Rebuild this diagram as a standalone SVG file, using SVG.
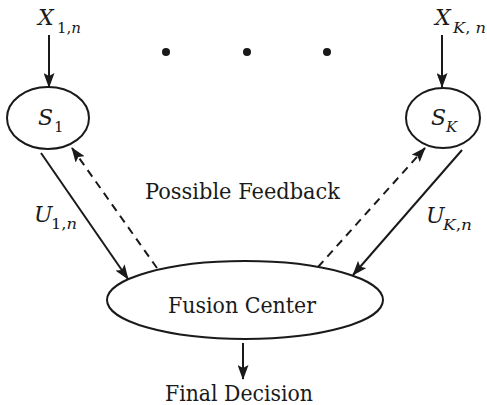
<svg xmlns="http://www.w3.org/2000/svg" width="487" height="405" viewBox="0 0 487 405">
<style>
.node{fill:none;stroke:#1a1a1a;stroke-width:2}
.c{stroke:#1a1a1a;stroke-width:2;fill:none}
.d{stroke-dasharray:8,6}
.t{font-family:"DejaVu Serif","Liberation Serif",serif;fill:#1a1a1a}
.m{font-style:italic}
</style>
<defs>
<marker id="ah" markerWidth="15" markerHeight="11" refX="14" refY="5.5" orient="auto" markerUnits="userSpaceOnUse">
<path d="M0,0 L15,5.5 L0,11 L3,5.5 Z" fill="#1a1a1a"/>
</marker>
</defs>
<g id="connectors">
<line class="c" x1="49" y1="35" x2="49" y2="87" marker-end="url(#ah)"/>
<line class="c" x1="442" y1="35" x2="442" y2="87" marker-end="url(#ah)"/>
<line class="c" x1="41" y1="153" x2="128" y2="279" marker-end="url(#ah)"/>
<line class="c d" x1="157" y1="268" x2="72" y2="148" marker-end="url(#ah)"/>
<line class="c" x1="462" y1="150" x2="353" y2="275" marker-end="url(#ah)"/>
<line class="c d" x1="318" y1="267" x2="425" y2="148" marker-end="url(#ah)"/>
<line class="c" x1="243" y1="343" x2="243" y2="379" marker-end="url(#ah)"/>
</g>
<g id="input1">
<text class="t m" x="38" y="25" font-size="22">X</text>
<text class="t" x="57" y="33" font-size="15" textLength="24" lengthAdjust="spacingAndGlyphs">1,<tspan class="m">n</tspan></text>
</g>
<g id="inputK">
<text class="t m" x="435" y="25" font-size="22">X</text>
<text class="t" x="453" y="33" font-size="15" textLength="33" lengthAdjust="spacingAndGlyphs"><tspan class="m">K</tspan>, <tspan class="m">n</tspan></text>
</g>
<g id="dots" fill="#1a1a1a">
<circle cx="166" cy="52" r="4"/>
<circle cx="247" cy="52" r="4"/>
<circle cx="327" cy="52" r="4"/>
</g>
<g id="S1">
<ellipse class="node" cx="48" cy="118" rx="41" ry="31"/>
<text class="t m" x="38" y="125" font-size="22">S</text>
<text class="t" x="54" y="132" font-size="15">1</text>
</g>
<g id="SK">
<ellipse class="node" cx="443" cy="118" rx="37" ry="30"/>
<text class="t m" x="431" y="125" font-size="22">S</text>
<text class="t m" x="446" y="132" font-size="15">K</text>
</g>
<g id="U1">
<text class="t m" x="34" y="222" font-size="22">U</text>
<text class="t" x="51" y="229" font-size="15" textLength="26" lengthAdjust="spacingAndGlyphs">1,<tspan class="m">n</tspan></text>
</g>
<g id="UK">
<text class="t m" x="426" y="223" font-size="22">U</text>
<text class="t" x="443" y="230" font-size="15" textLength="29" lengthAdjust="spacingAndGlyphs"><tspan class="m">K</tspan>,<tspan class="m">n</tspan></text>
</g>
<text class="t" x="145" y="199" font-size="22" textLength="195" lengthAdjust="spacingAndGlyphs">Possible Feedback</text>
<g id="fusion">
<ellipse class="node" cx="245" cy="300" rx="138" ry="39"/>
<text class="t" x="168" y="313" font-size="22" textLength="148" lengthAdjust="spacingAndGlyphs">Fusion Center</text>
</g>
<text class="t" x="165" y="401" font-size="22" textLength="148" lengthAdjust="spacingAndGlyphs">Final Decision</text>
</svg>
